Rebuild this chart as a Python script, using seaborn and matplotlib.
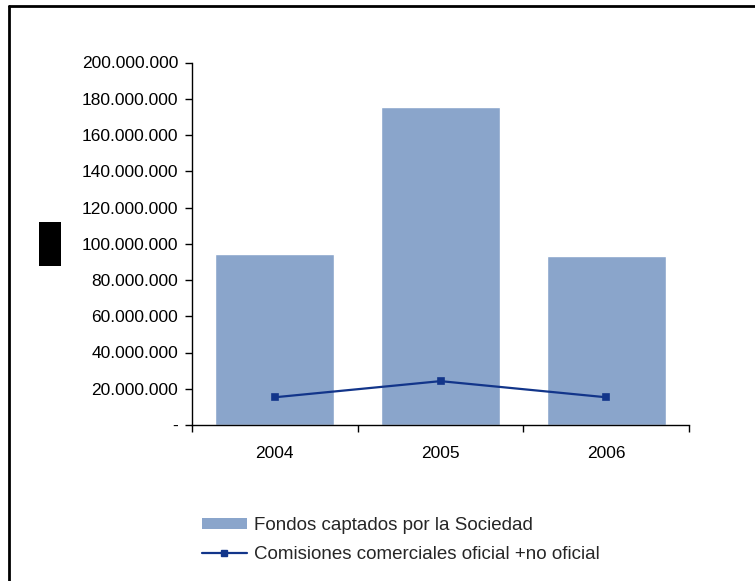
import matplotlib
matplotlib.use("Agg")
import matplotlib.pyplot as plt
import matplotlib.ticker as mticker
from matplotlib.lines import Line2D
from matplotlib.patches import Patch, Rectangle
import seaborn as sns
import pandas as pd

years = ["2004", "2005", "2006"]
fondos = [94_200_000, 175_400_000, 93_100_000]
comisiones = [15_300_000, 24_200_000, 15_300_000]
y_ticks = [0, 20_000_000, 40_000_000, 60_000_000, 80_000_000, 100_000_000,
           120_000_000, 140_000_000, 160_000_000, 180_000_000, 200_000_000]

bar_label = "Fondos captados por la Sociedad"
line_label = "Comisiones comerciales oficial +no oficial"

bar_color = "#8AA5CB"
line_color = "#12358A"

sns.set_theme(style="white")
plt.rcParams["font.family"] = ["Liberation Sans", "DejaVu Sans"]

df = pd.DataFrame({"year": years, "fondos": fondos, "comisiones": comisiones})

fig = plt.figure(figsize=(7.55, 5.81), dpi=100)
ax = fig.add_axes([192 / 755, 1 - 425 / 581, (689 - 192) / 755, (425 - 62.5) / 581])

sns.barplot(data=df, x="year", y="fondos", color=bar_color, width=0.72,
            saturation=1, ax=ax, zorder=2)
sns.pointplot(data=df, x="year", y="comisiones", color=line_color, markers="s",
              markersize=5, linewidth=1.6, ax=ax, zorder=3)

ax.set_xlim(-0.5, 2.5)
ax.set_ylim(0, 200_000_000)
ax.set_xlabel("")
ax.set_ylabel("")


def fmt(v, _pos):
    if v == 0:
        return "-"
    return f"{int(v):,}".replace(",", ".")


ax.set_yticks(y_ticks)
ax.yaxis.set_major_formatter(mticker.FuncFormatter(fmt))
ax.tick_params(axis="y", which="major", left=True, length=5, width=1,
               color="black", labelsize=12.5, pad=5, labelcolor="black")

ax.set_xticks([0, 1, 2])
ax.set_xticklabels(years)
ax.set_xticks([-0.5, 0.5, 1.5, 2.5], minor=True)
ax.tick_params(axis="x", which="major", length=0, labelsize=12.5, pad=15,
               labelcolor="black")
ax.tick_params(axis="x", which="minor", bottom=True, length=5, width=1,
               color="black")

for side in ["top", "right"]:
    ax.spines[side].set_visible(False)
for side in ["left", "bottom"]:
    ax.spines[side].set_color("black")
    ax.spines[side].set_linewidth(1)

# chart frame (top and left edges)
fig.add_artist(Line2D([8.5 / 755, 8.5 / 755], [0, 1 - 5.5 / 581],
                      color="black", linewidth=2, transform=fig.transFigure))
fig.add_artist(Line2D([8.5 / 755, 1], [1 - 5.5 / 581, 1 - 5.5 / 581],
                      color="black", linewidth=2, transform=fig.transFigure))

# axis title block
fig.add_artist(Rectangle((39 / 755, 1 - 266 / 581), 22 / 755, 44 / 581,
                         facecolor="black", edgecolor="none",
                         transform=fig.transFigure))

handles = [
    Patch(facecolor=bar_color, edgecolor="none", label=bar_label),
    Line2D([0], [0], color=line_color, linewidth=1.6, marker="s",
           markersize=5, label=line_label),
]
fig.legend(handles=handles, loc="upper left",
           bbox_to_anchor=(194 / 755, 1 - 509.5 / 581), frameon=False,
           fontsize=13.5, handlelength=2.45, handleheight=0.55,
           handletextpad=0.37, labelspacing=0.66, borderaxespad=0)

fig.savefig("out.png", dpi=100)
